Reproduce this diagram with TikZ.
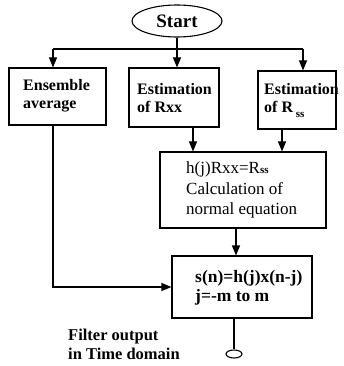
\documentclass[tikz,border=0pt]{standalone}
\usepackage{fontspec}
\setmainfont{Liberation Serif}
\usetikzlibrary{arrows.meta,shapes.geometric}
\begin{document}
\begin{tikzpicture}[x=1pt,y=-1pt,
  box/.style={draw,line width=1.1pt,inner sep=0pt},
  lbl/.style={anchor=west,align=left,inner sep=0pt,font=\fontsize{16}{18}\selectfont\bfseries},
  conn/.style={line width=1.1pt},
  arr/.style={conn,-{Triangle[length=10pt,width=8pt]}}]
\useasboundingbox (0,0) rectangle (344,366);
% boxes
\node[box,ellipse,minimum width=90pt,minimum height=32pt,font=\fontsize{19}{21}\selectfont\bfseries] (start) at (177,21) {Start};
\node[box,minimum width=97pt,minimum height=57pt] (ens) at (57.5,96.5) {};
\node[box,minimum width=90pt,minimum height=59pt] (rxx) at (174,97.5) {};
\node[box,minimum width=78pt,minimum height=58pt] (rss) at (297,100) {};
\node[box,minimum width=166pt,minimum height=76pt] (mid) at (243,190) {};
\node[box,minimum width=140pt,minimum height=62pt] (bot) at (242,287) {};
\node[box,ellipse,minimum width=16pt,minimum height=8pt] (out) at (234,354) {};
% texts
\node[lbl] (enst) at (23,96) {Ensemble\\average};
\node[lbl] (rxxt) at (137,98) {Estimation\\of Rxx};
\node[lbl] (rsst) at (264,98) {Estimation\\of R\,\raisebox{-5pt}[0pt][0pt]{\fontsize{11}{11}\selectfont ss}};
\node[lbl,font=\fontsize{17}{20.5}\selectfont] (midt) at (186,190) {h(j)Rxx=R{\fontsize{11}{11}\selectfont\bfseries ss}\\Calculation of\\normal equation};
\node[lbl,font=\fontsize{17.5}{19}\selectfont\bfseries] (bott) at (195,288) {s(n)=h(j)x(n-j)\\j=-m to m};
\node[lbl,font=\fontsize{16.5}{19}\selectfont\bfseries] (filt) at (68,344) {Filter output\\in Time domain};
% connectors
\coordinate (jl) at (53,49);
\coordinate (jr) at (303,49);
\draw[conn] (jl) -- (jr);
\draw[arr] (jl) -- (jl |- ens.north);
\draw[arr] (jr) -- (jr |- rss.north);
\draw[arr] (start.south) -- (start.south |- rxx.north);
\draw[arr] ([xshift=19pt]rxx.south) -- ([xshift=19pt]rxx.south |- mid.north);
\draw[arr] ([xshift=-15pt]rss.south) -- ([xshift=-15pt]rss.south |- mid.north);
\draw[arr] ([xshift=-7pt]mid.south) -- ([xshift=-7pt]mid.south |- bot.north);
\draw[arr] (jl |- ens.south) -- (jl |- bot.west) -- (bot.west);
\draw[conn] ([xshift=-8pt]bot.south) -- (out.north);
\end{tikzpicture}
\end{document}
